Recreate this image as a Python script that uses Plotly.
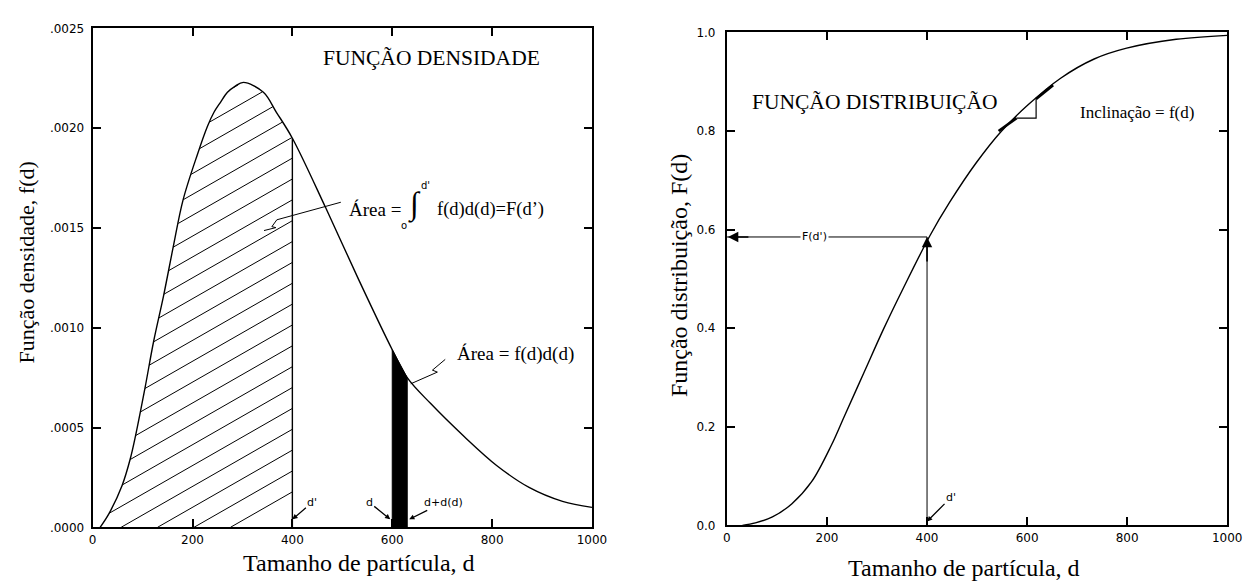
import numpy as np
import plotly.graph_objects as go

# ---------------- data ----------------
# Density function f(d)
d_density = [15, 33, 59, 75, 86, 105, 122, 142, 161, 181, 210, 230, 243, 256, 270, 285, 302,
             342, 368, 400, 467, 533, 600, 630, 677, 744, 809, 874, 941, 1000]
f_density = [0.0, 0.00007, 0.00021, 0.00034, 0.00046, 0.00070, 0.00093, 0.00116, 0.00140,
             0.00164, 0.00187, 0.00201, 0.00208, 0.00213, 0.00218, 0.00221, 0.00223,
             0.00218, 0.00208, 0.00195, 0.00160, 0.00124, 0.00089, 0.00075, 0.00062,
             0.000455, 0.00031, 0.00020, 0.00013, 0.00010]

# Distribution function F(d)
d_dist = [31, 57, 91, 130, 169, 209, 235, 274, 313, 352, 406, 445, 498, 549, 602, 667, 734,
          799, 898, 1000]
F_dist = [0.0, 0.005, 0.017, 0.044, 0.088, 0.163, 0.222, 0.310, 0.398, 0.480, 0.588, 0.655,
          0.735, 0.800, 0.853, 0.907, 0.946, 0.968, 0.986, 0.994]

D_PRIME = 400          # d'
F_D_PRIME = 0.585      # F(d')
BAND = [600, 630]      # d and d + d(d)

x_ticks = [0, 200, 400, 600, 800, 1000]
x_ticktext = ["0", "200", "400", "600", "800", "1000"]
y1_ticks = [0, 0.0005, 0.0010, 0.0015, 0.0020, 0.0025]
y1_ticktext = [".0000", ".0005", ".0010", ".0015", ".0020", ".0025"]
y2_ticks = [0, 0.2, 0.4, 0.6, 0.8, 1.0]
y2_ticktext = ["0.0", "0.2", "0.4", "0.6", "0.8", "1.0"]

# slope triangle (distribution chart)
tri_d = [579, 618]
tri_F = [0.826, 0.865]
tangent_lo = ([543, 579], [0.800, 0.826])
tangent_hi = ([618, 652], [0.865, 0.893])

# ---------------- layout geometry ----------------
W, H = 1257, 588
X1 = [90 / W, 597 / W]
Y1 = [1 - 533 / H, 1 - 22 / H]
X2 = [734 / W, 1242 / W]
Y2 = [1 - 531 / H, 1 - 26 / H]

SERIF = "Liberation Serif, Times New Roman, serif"
SANS = "DejaVu Sans, Arial, sans-serif"

fig = go.Figure()

# ---------------- left chart: density ----------------
# hatch lines inside the area 15..d'
pw = (X1[1] - X1[0]) * W
ph = (Y1[1] - Y1[0]) * H
k = np.tan(np.radians(30)) * (0.0025 / ph) / (1000 / pw)
xs = np.linspace(d_density[0], D_PRIME, 1500)
fi = np.interp(xs, d_density, f_density)
hx, hy = [], []
for d0 in np.arange(276, -2500, -73):
    yl = k * (xs - d0)
    m = (yl >= 0) & (yl <= fi)
    if m.any():
        idx = np.where(m)[0]
        a, b = xs[idx[0]], xs[idx[-1]]
        hx += [a, b, None]
        hy += [k * (a - d0), k * (b - d0), None]
fig.add_trace(go.Scatter(x=hx, y=hy, mode="lines", line=dict(color="black", width=1),
                         hoverinfo="skip", showlegend=False, xaxis="x", yaxis="y"))

# vertical line at d'
f_at_dp = f_density[d_density.index(D_PRIME)]
fig.add_trace(go.Scatter(x=[D_PRIME, D_PRIME], y=[0, f_at_dp], mode="lines",
                         line=dict(color="black", width=1.4), showlegend=False,
                         xaxis="x", yaxis="y"))

# black band between d and d+d(d)
fb0 = f_density[d_density.index(BAND[0])]
fb1 = f_density[d_density.index(BAND[1])]
fig.add_trace(go.Scatter(x=[BAND[0], BAND[0], BAND[1], BAND[1], BAND[0]],
                         y=[0, fb0, fb1, 0, 0], mode="lines", fill="toself",
                         fillcolor="black", line=dict(color="black", width=1),
                         showlegend=False, xaxis="x", yaxis="y"))

# density curve
fig.add_trace(go.Scatter(x=d_density, y=f_density, mode="lines",
                         line=dict(color="black", width=1.4, shape="spline", smoothing=1.0),
                         showlegend=False, xaxis="x", yaxis="y"))

# ---------------- right chart: distribution ----------------
fig.add_trace(go.Scatter(x=d_dist, y=F_dist, mode="lines",
                         line=dict(color="black", width=1.4, shape="spline", smoothing=1.0),
                         showlegend=False, xaxis="x2", yaxis="y2"))
# horizontal F(d') line and vertical d' line
fig.add_trace(go.Scatter(x=[0, D_PRIME], y=[F_D_PRIME, F_D_PRIME], mode="lines",
                         line=dict(color="black", width=1), showlegend=False,
                         xaxis="x2", yaxis="y2"))
fig.add_trace(go.Scatter(x=[D_PRIME, D_PRIME], y=[0, F_D_PRIME], mode="lines",
                         line=dict(color="black", width=1), showlegend=False,
                         xaxis="x2", yaxis="y2"))
# slope triangle
fig.add_trace(go.Scatter(x=[tri_d[0], tri_d[1], tri_d[1]], y=[tri_F[0], tri_F[0], tri_F[1]],
                         mode="lines", line=dict(color="black", width=1.2), showlegend=False,
                         xaxis="x2", yaxis="y2"))
for seg in (tangent_lo, tangent_hi):
    fig.add_trace(go.Scatter(x=seg[0], y=seg[1], mode="lines",
                             line=dict(color="black", width=2.6), showlegend=False,
                             xaxis="x2", yaxis="y2"))

# ---------------- axes ----------------
axis_common = dict(showline=True, linecolor="black", linewidth=2, mirror="ticks",
                   ticks="inside", ticklen=8, tickwidth=1.5, tickcolor="black",
                   showgrid=False, zeroline=False,
                   tickfont=dict(family=SANS, size=12, color="black"))

fig.update_layout(
    width=W, height=H, margin=dict(l=0, r=0, t=0, b=0),
    paper_bgcolor="white", plot_bgcolor="white", showlegend=False,
    font=dict(color="black"),
    xaxis=dict(domain=X1, anchor="y", range=[0, 1000], tickvals=x_ticks,
               ticktext=x_ticktext, **axis_common),
    yaxis=dict(domain=Y1, anchor="x", range=[0, 0.0025], tickvals=y1_ticks,
               ticktext=y1_ticktext, ticklabelstandoff=4, **axis_common),
    xaxis2=dict(domain=X2, anchor="y2", range=[0, 1000], tickvals=x_ticks,
                ticktext=x_ticktext, **axis_common),
    yaxis2=dict(domain=Y2, anchor="x2", range=[0, 1.0], tickvals=y2_ticks,
                ticktext=y2_ticktext, ticklabelstandoff=7, **axis_common),
)


def px(x):
    return x / W


def py(y):
    return 1 - y / H


ann = []


def txt(text, x, y, size, family=SERIF, xanchor="center", angle=0):
    ann.append(dict(text=text, x=px(x), y=py(y), xref="paper", yref="paper",
                    xanchor=xanchor, yanchor="middle", textangle=angle, showarrow=False,
                    font=dict(family=family, size=size, color="black")))


# axis titles
txt("Função densidade, f(d)", 23, 262, 22, angle=-90)
txt("Tamanho de partícula, d", 360, 570, 24)
txt("Função distribuição, F(d)", 686, 275, 24, angle=-90)
txt("Tamanho de partícula, d", 975, 575, 24)
# chart headings
txt("FUNÇÃO DENSIDADE", 434, 52, 21.5)
txt("FUNÇÃO DISTRIBUIÇÃO", 757, 97, 21.5, xanchor="left")
# integral annotation
txt("Área =", 348, 207, 19, xanchor="left")
txt("∫", 417, 202, 32)
txt("d'", 428, 183, 10, family=SANS)
txt("o", 406, 224, 10, family=SANS)
txt("f(d)d(d)=F(d’)", 438, 207, 18.5, xanchor="left")
txt("Área = f(d)d(d)", 458, 355, 19, xanchor="left")
txt("Inclinação = f(d)", 1090, 108, 17, xanchor="left")

# arrows with labels (data coordinates)
arrow_font = dict(family=SANS, size=11, color="black")
small = dict(showarrow=True, arrowhead=2, arrowsize=0.8, arrowwidth=1.3, arrowcolor="black",
             font=arrow_font)
ann += [
    dict(xref="x", yref="y", x=D_PRIME, y=0.00004, text="d'", ax=20, ay=-17, **small),
    dict(xref="x", yref="y", x=BAND[0] - 4, y=0.00004, text="d", ax=-21, ay=-17, **small),
    dict(xref="x", yref="y", x=BAND[1] + 4, y=0.00004, text="d+d(d)", ax=34, ay=-17, **small),
    dict(xref="x2", yref="y2", x=D_PRIME, y=0.008, text="d'", ax=24, ay=-24, **small),
    dict(xref="x2", yref="y2", x=175, y=F_D_PRIME, text="F(d')", showarrow=False,
         bgcolor="white", font=arrow_font),
    dict(xref="x2", yref="y2", x=2, y=F_D_PRIME, text="", ax=22, ay=0,
         showarrow=True, arrowhead=2, arrowsize=1.3, arrowwidth=1.6, arrowcolor="black"),
    dict(xref="x2", yref="y2", x=D_PRIME, y=F_D_PRIME, text="", ax=0, ay=26,
         showarrow=True, arrowhead=2, arrowsize=1.3, arrowwidth=1.6, arrowcolor="black"),
]
fig.update_layout(annotations=ann)

# pointer lines (decorative leaders)
shapes = [
    dict(type="path", xref="paper", yref="paper", line=dict(color="black", width=1),
         path=f"M {px(342)} {py(200)} L {px(277)} {py(218)} L {px(272)} {py(225)} "
              f"L {px(276)} {py(226)} L {px(264)} {py(229)}"),
    dict(type="path", xref="paper", yref="paper", line=dict(color="black", width=1),
         path=f"M {px(448)} {py(361)} L {px(435)} {py(372)} L {px(440)} {py(374)} "
              f"L {px(413)} {py(386)}"),
]
fig.update_layout(shapes=shapes)

fig.write_html("out.html")
